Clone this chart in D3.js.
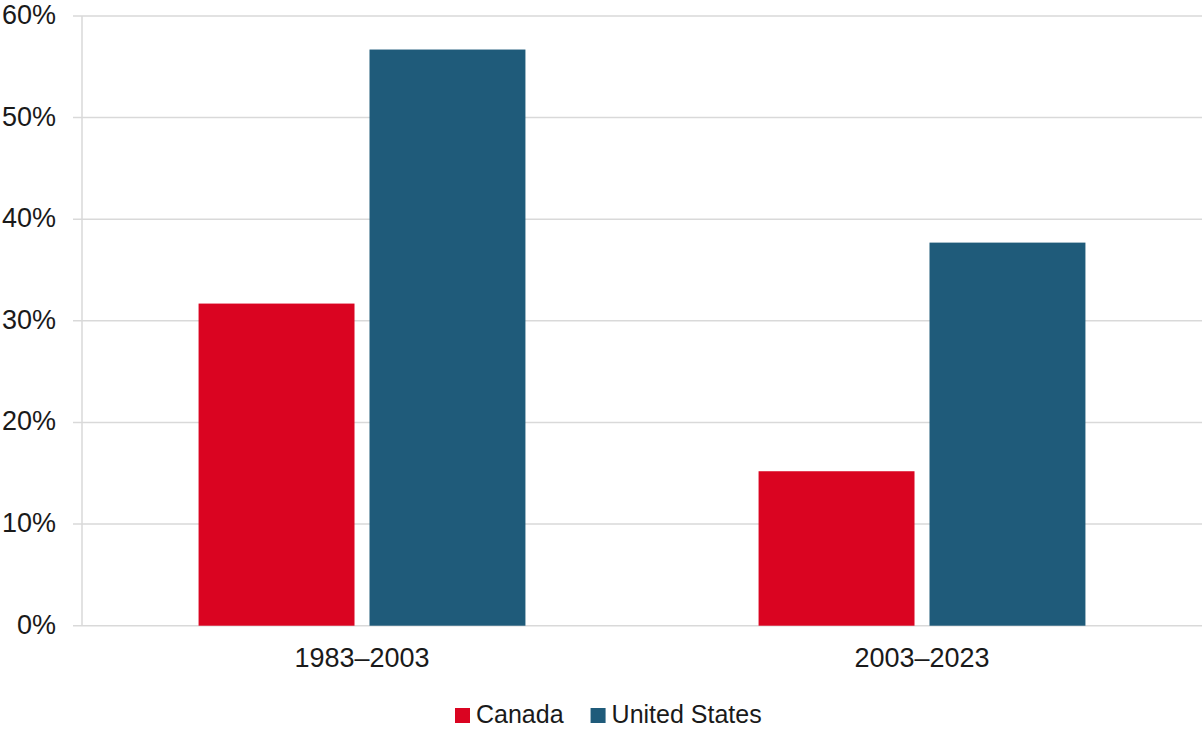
<!DOCTYPE html>
<html>
<head>
<meta charset="utf-8">
<script src="https://cdn.jsdelivr.net/npm/d3@7"></script>
<style>
  html, body { margin: 0; padding: 0; background: #fff; }
  svg { display: block; font-family: "Liberation Sans", Arial, sans-serif; }
</style>
</head>
<body>
<svg id="chart" width="1202" height="730"></svg>
<script>
// Periods on the x axis and the two countries compared in each
const periods = ["1983–2003", "2003–2023"];
const countries = ["Canada", "United States"];
const canadaValues = [31.7, 15.2];
const usValues = [56.7, 37.7];
const yTicks = [0, 10, 20, 30, 40, 50, 60];
const colors = ["#DA0421", "#1F5B7A"];

const rows = periods.map((p, i) => ({
  period: p,
  values: [
    { country: countries[0], value: canadaValues[i] },
    { country: countries[1], value: usValues[i] }
  ]
}));

const svg = d3.select("#chart");
const plot = { left: 82, right: 1202, top: 16, bottom: 625.7 };

const y = d3.scaleLinear().domain([0, 60]).range([plot.bottom, plot.top]);
const x0 = d3.scaleBand().domain(periods).range([plot.left, plot.right]).padding(0);
const x1 = d3.scaleBand().domain(countries).range([0, x0.bandwidth()])
  .paddingInner(0.0877).paddingOuter(0.682);
const color = d3.scaleOrdinal().domain(countries).range(colors);

// Horizontal gridlines with their percentage labels
const grid = svg.append("g");
grid.selectAll("line").data(yTicks).join("line")
  .attr("x1", 73).attr("x2", plot.right)
  .attr("y1", d => y(d)).attr("y2", d => y(d))
  .attr("stroke", "#d9d9d9").attr("stroke-width", 1.5);
grid.selectAll("text").data(yTicks).join("text")
  .attr("x", 56).attr("y", d => y(d) + 8)
  .attr("text-anchor", "end")
  .attr("font-size", 27).attr("fill", "#1a1a1a")
  .text(d => d + "%");

// Vertical axis line
svg.append("line")
  .attr("x1", plot.left).attr("x2", plot.left)
  .attr("y1", plot.top).attr("y2", plot.bottom)
  .attr("stroke", "#d9d9d9").attr("stroke-width", 1.5);

// Grouped bars
const groups = svg.append("g").selectAll("g").data(rows).join("g")
  .attr("transform", d => `translate(${x0(d.period)},0)`);
groups.selectAll("rect").data(d => d.values).join("rect")
  .attr("x", d => x1(d.country))
  .attr("width", x1.bandwidth())
  .attr("y", d => y(d.value))
  .attr("height", d => y(0) - y(d.value))
  .attr("fill", d => color(d.country));

// Category labels
svg.append("g").selectAll("text").data(periods).join("text")
  .attr("x", d => x0(d) + x0.bandwidth() / 2)
  .attr("y", 667)
  .attr("text-anchor", "middle")
  .attr("font-size", 27).attr("fill", "#1a1a1a")
  .text(d => d);

// Legend below the chart
const legend = svg.append("g").attr("transform", "translate(455,0)");
const items = legend.selectAll("g").data(countries).join("g");
items.append("rect")
  .attr("width", 15).attr("height", 15).attr("y", 708)
  .attr("fill", d => color(d));
items.append("text")
  .attr("x", 21).attr("y", 723)
  .attr("font-size", 25).attr("fill", "#1a1a1a")
  .text(d => d);
let cursor = 0;
const gap = 27;
items.each(function () {
  const w = 21 + d3.select(this).select("text").node().getComputedTextLength();
  d3.select(this).attr("transform", `translate(${cursor},0)`);
  cursor += w + gap;
});
</script>
</body>
</html>
